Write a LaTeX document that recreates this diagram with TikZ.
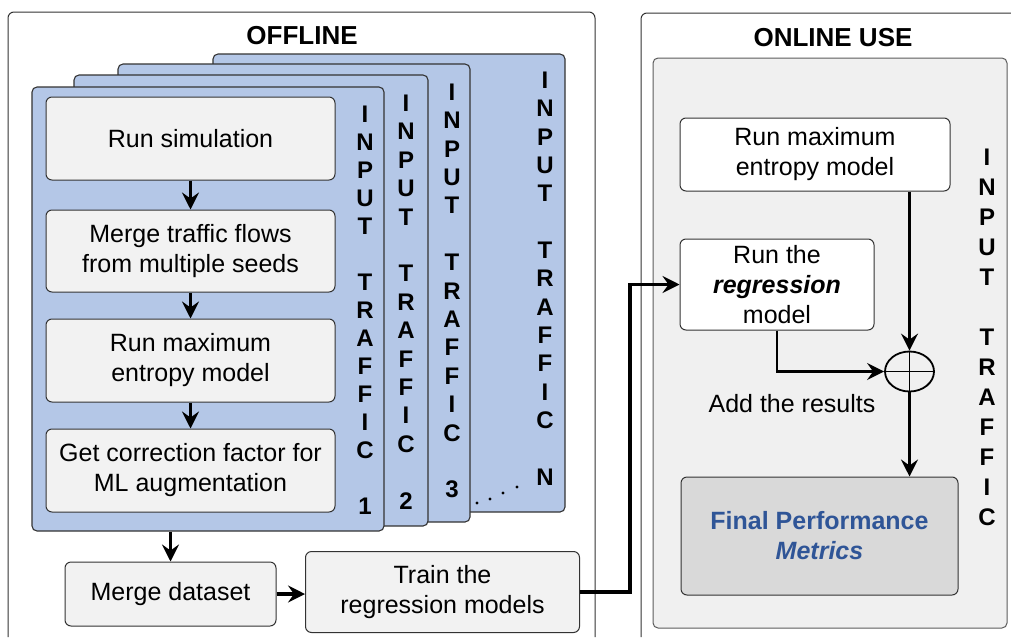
\documentclass[tikz,border=0pt]{standalone}
\usepackage{fontspec}
\setmainfont{Liberation Sans}
\usetikzlibrary{arrows.meta,shapes.geometric}
\definecolor{cardblue}{HTML}{B4C7E7}
\definecolor{boxgray}{HTML}{F2F2F2}
\definecolor{panelgray}{HTML}{F0F0F0}
\definecolor{finalgray}{HTML}{D9D9D9}
\definecolor{finalblue}{HTML}{2F5597}
\definecolor{edge}{HTML}{333333}
\tikzset{
  card/.style={draw=edge, fill=cardblue, line width=1.1pt, rounded corners=5pt, inner sep=0pt},
  stepbox/.style={draw=edge, fill=boxgray, line width=1pt, rounded corners=6pt, align=center,
    font=\fontsize{25}{30}\selectfont, inner sep=0pt},
  whitebox/.style={stepbox, fill=white},
  vtext/.style={align=center, inner sep=0pt},
  title/.style={font=\fontsize{26}{30}\selectfont\bfseries, inner sep=0pt},
  flow/.style={-{Stealth[length=17pt,width=17pt,inset=6pt]}, line width=2.6pt},
  bigflow/.style={-{Stealth[length=17pt,width=17pt,inset=6pt]}, line width=3.2pt},
  panel/.style={draw=edge, line width=1pt, rounded corners=6pt},
}
\begin{document}
\begin{tikzpicture}[x=1pt,y=-1pt]
\useasboundingbox (0,0) rectangle (1011,637);
% outer panels
\draw[panel] (8,637) -- (8,12) -- (595,12) -- (595,637);
\draw[panel] (641,637) -- (641,13) -- (1030,13) -- (1030,637);
\node[title] (offt) at (302,36) {OFFLINE};
\node[title] (ont) at (833,38) {ONLINE USE};
\node[draw=edge!80, fill=panelgray, line width=1pt, rounded corners=5pt, minimum width=354pt, minimum height=570pt, inner sep=0pt] (onpanel) at (830,343) {};
% cards
\node[card, minimum width=352pt, minimum height=458pt] (cardN) at (389,283) {};
\node[card, minimum width=352pt, minimum height=458pt] (card3) at (294,293) {};
\node[card, minimum width=354pt, minimum height=451pt] (card2) at (251,300.5) {};
\node[card, minimum width=352pt, minimum height=444pt] (card1) at (208,309) {};
% vertical labels
\node[vtext, font=\fontsize{24}{28.35}\selectfont\bfseries] (vN) at (545,278.5) {I\\N\\P\\U\\T\\~\\T\\R\\A\\F\\F\\I\\C\\~\\N};
\node[vtext, font=\fontsize{24}{28.4}\selectfont\bfseries] (v3) at (452,291) {I\\N\\P\\U\\T\\~\\T\\R\\A\\F\\F\\I\\C\\~\\3};
\node[vtext, font=\fontsize{24}{28.4}\selectfont\bfseries] (v2) at (406,302) {I\\N\\P\\U\\T\\~\\T\\R\\A\\F\\F\\I\\C\\~\\2};
\node[vtext, font=\fontsize{24}{28}\selectfont\bfseries] (v1) at (365,310) {I\\N\\P\\U\\T\\~\\T\\R\\A\\F\\F\\I\\C\\~\\1};
\node[vtext, font=\fontsize{24}{30}\selectfont\bfseries] (vOn) at (987,337.5) {I\\N\\P\\U\\T\\~\\T\\R\\A\\F\\F\\I\\C};
% dots
\foreach \px/\py [count=\i] in {477/503, 490/499, 503/493, 517/487}
  \fill (\px,\py) circle (1.7pt);
% offline steps
\node[stepbox, minimum width=289pt, minimum height=83pt] (sim) at (190.5,138.5) {Run simulation};
\node[stepbox, minimum width=289pt, minimum height=82pt] (mrg) at (190.5,251) {Merge traffic flows\\from multiple seeds};
\node[stepbox, minimum width=289pt, minimum height=83pt] (mxe) at (190.5,360.5) {Run maximum\\entropy model};
\node[stepbox, minimum width=289pt, minimum height=83pt] (cor) at (190.5,470.5) {Get correction factor for\\ML augmentation};
\draw[flow] (sim.south) -- (mrg.north);
\draw[flow] (mrg.south) -- (mxe.north);
\draw[flow] (mxe.south) -- (cor.north);
% bottom
\node[stepbox, minimum width=211pt, minimum height=64pt] (mds) at (170.5,594) {Merge dataset};
\node[stepbox, minimum width=274pt, minimum height=81pt] (trn) at (442.5,592) {Train the\\regression models};
\draw[flow] (mds.north |- card1.south) -- (mds.north);
\draw[bigflow] (mds.east) -- (mds.east -| trn.west);
% online
\node[whitebox, minimum width=270pt, minimum height=73pt] (ent) at (815,154.5) {Run maximum\\entropy model};
\node[whitebox, minimum width=194pt, minimum height=91pt] (reg) at (777,284.5) {Run the\\\textbf{\textit{regression}}\\model};
\node[draw=black, line width=1.8pt, ellipse, minimum width=49pt, minimum height=40pt, inner sep=0pt] (plus) at (909.5,371.5) {};
\draw[line width=1.8pt] (plus.north) -- (plus.south) (plus.west) -- (plus.east);
\node[font=\fontsize{25}{30}\selectfont, inner sep=0pt] (addr) at (792,404) {Add the results};
\node[stepbox, fill=finalgray, text=finalblue, font=\fontsize{25}{30}\selectfont\bfseries, minimum width=277pt, minimum height=118pt] (fin) at (819.5,536) {Final Performance\\\textit{Metrics}};
\coordinate (turn) at (630,0);
\draw[bigflow] (trn.east) -| (turn |- reg.west) -- (reg.west);
\draw[flow] (plus.north |- ent.south) -- (plus.north);
\draw[flow] (reg.south) |- (plus.west);
\draw[flow] (plus.south) -- (plus.south |- fin.north);
\end{tikzpicture}
\end{document}
